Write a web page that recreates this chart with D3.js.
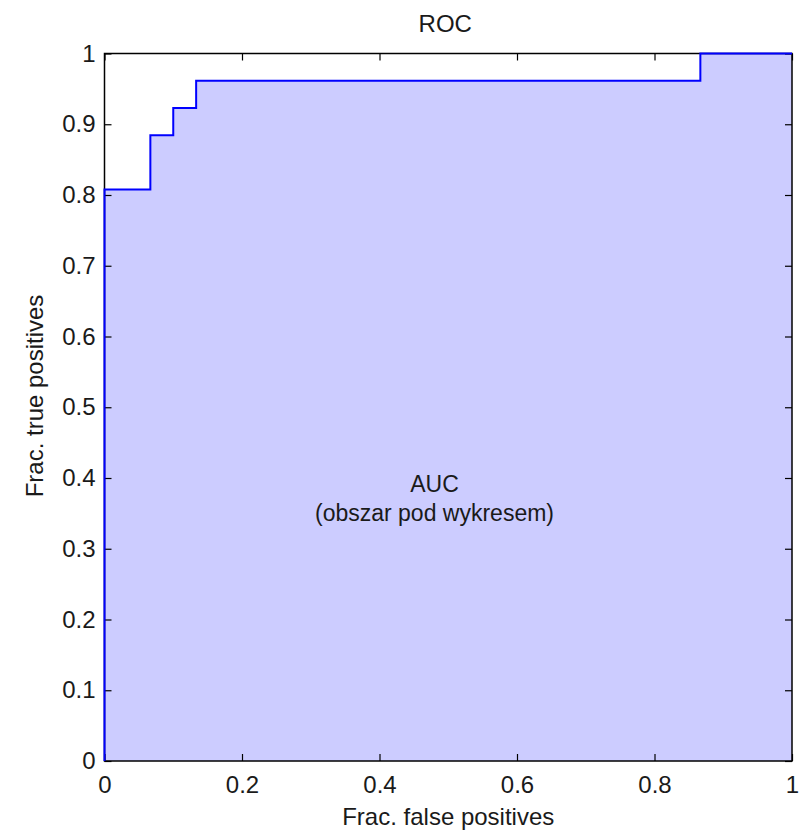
<!DOCTYPE html>
<html>
<head>
<meta charset="utf-8">
<script src="https://cdn.jsdelivr.net/npm/d3@7"></script>
<style>
  body { margin: 0; background: #fff; }
  svg { font-family: "Liberation Sans", Arial, sans-serif; }
</style>
</head>
<body>
<svg id="chart"></svg>
<script>
// ROC curve points (false positive rate, true positive rate), step shape
const fpr = [0, 0, 0.0667, 0.0667, 0.1, 0.1, 0.1333, 0.1333, 0.8667, 0.8667, 1];
const tpr = [0, 0.8077, 0.8077, 0.8846, 0.8846, 0.9231, 0.9231, 0.9615, 0.9615, 1, 1];
const yTicks = [0, 0.1, 0.2, 0.3, 0.4, 0.5, 0.6, 0.7, 0.8, 0.9, 1];
const xTicks = [0, 0.2, 0.4, 0.6, 0.8, 1];

const width = 804, height = 835;
const margin = { top: 53.5, right: 12, bottom: 74, left: 104.5 };
const w = width - margin.left - margin.right;
const h = height - margin.top - margin.bottom;

const svg = d3.select("#chart").attr("width", width).attr("height", height);
const g = svg.append("g").attr("transform", `translate(${margin.left},${margin.top})`);

const x = d3.scaleLinear().domain([0, 1]).range([0, w]);
const y = d3.scaleLinear().domain([0, 1]).range([h, 0]);

const points = fpr.map((d, i) => [d, tpr[i]]);

g.append("path")
    .datum(points)
    .attr("fill", "#ccccff")
    .attr("d", d3.area().x(d => x(d[0])).y0(y(0)).y1(d => y(d[1])));

const fmt = d => String(+d.toFixed(1));
const styleAxis = sel => {
    sel.select(".domain").remove();
    sel.selectAll("line").attr("stroke", "#000").attr("stroke-width", 1.2);
    sel.selectAll("text").attr("fill", "#1a1a1a").style("font-size", "24px");
};

g.append("g").attr("transform", `translate(0,${h})`)
    .call(d3.axisBottom(x).tickValues(xTicks).tickSize(-7).tickPadding(15).tickFormat(fmt))
    .call(styleAxis);
g.append("g")
    .call(d3.axisTop(x).tickValues(xTicks).tickSize(-7).tickFormat(""))
    .call(styleAxis);
g.append("g")
    .call(d3.axisLeft(y).tickValues(yTicks).tickSize(-7).tickPadding(9).tickFormat(fmt))
    .call(styleAxis);
g.append("g").attr("transform", `translate(${w},0)`)
    .call(d3.axisRight(y).tickValues(yTicks).tickSize(-7).tickFormat(""))
    .call(styleAxis);

// box
g.append("rect")
    .attr("width", w).attr("height", h)
    .attr("fill", "none").attr("stroke", "#000").attr("stroke-width", 1.5);

// curve on top of frame
g.append("path")
    .datum(points)
    .attr("fill", "none")
    .attr("stroke", "#0000ff")
    .attr("stroke-width", 2)
    .attr("d", d3.line().x(d => x(d[0])).y(d => y(d[1])));

svg.append("text")
    .attr("x", margin.left + w / 2 - 3).attr("y", 32)
    .attr("text-anchor", "middle").style("font-size", "24px").attr("fill", "#1a1a1a")
    .text("ROC");

svg.append("text")
    .attr("x", margin.left + w / 2).attr("y", 825)
    .attr("text-anchor", "middle").style("font-size", "24px").attr("fill", "#1a1a1a")
    .text("Frac. false positives");

svg.append("text")
    .attr("transform", `translate(43,396) rotate(-90)`)
    .attr("text-anchor", "middle").style("font-size", "24px").attr("fill", "#1a1a1a")
    .text("Frac. true positives");

g.append("text")
    .attr("x", x(0.48)).attr("y", 492 - margin.top)
    .attr("text-anchor", "middle").style("font-size", "23px").attr("fill", "#1a1a1a")
    .text("AUC");
g.append("text")
    .attr("x", x(0.48)).attr("y", 521 - margin.top)
    .attr("text-anchor", "middle").style("font-size", "23px").attr("fill", "#1a1a1a")
    .text("(obszar pod wykresem)");
</script>
</body>
</html>
